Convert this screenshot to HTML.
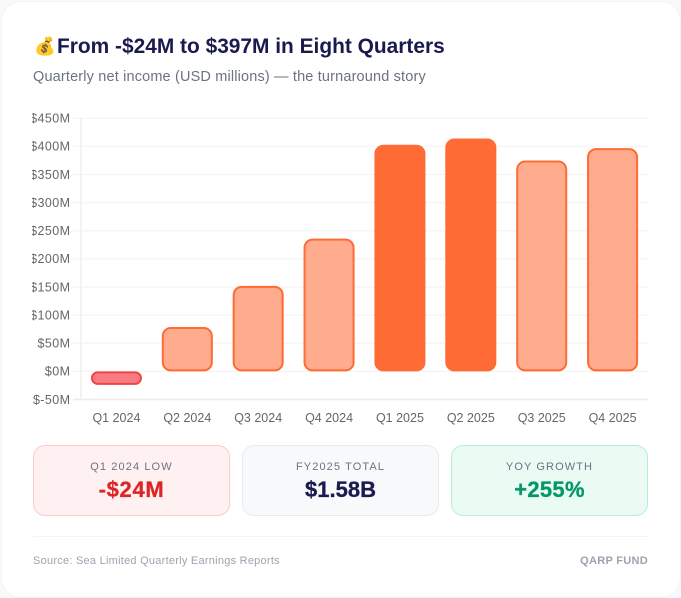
<!DOCTYPE html>
<html lang="en">
<head>
<meta charset="utf-8">
<title>From -$24M to $397M in Eight Quarters</title>
<style>
html,body{margin:0;padding:0;width:681px;height:598px;overflow:hidden;background:#f8f9fb;font-family:"Liberation Sans","Noto Sans CJK SC",sans-serif}
#card{position:absolute;left:1px;top:1px;width:678px;height:595px;background:#fff;border:1px solid #f3f4f6;border-radius:20px}
.abs{position:absolute;white-space:nowrap}
#title-icon{left:34px;top:34px;font-size:17.5px;line-height:24px}
#title{left:57px;top:34px;font-size:20.9px;line-height:26px;font-weight:700;color:#1a1a4e}
#subtitle{left:33px;top:68px;font-size:14.5px;line-height:18px;color:#6b7280;letter-spacing:.16px}
#chart{position:absolute;left:32px;top:105px}
.stat{position:absolute;top:445px;height:69px;border-radius:12px;border:1px solid;text-align:center}
.stat-label{position:absolute;left:0;right:0;top:14px;font-size:11px;line-height:14px;letter-spacing:1.1px;color:#6b7280}
.stat-value{position:absolute;left:0;right:0;top:30px;font-size:22px;line-height:28px;font-weight:700;-webkit-text-stroke:.3px currentColor}
#divider{position:absolute;left:33px;top:536px;width:615px;height:1px;background:#f3f4f6}
#source{left:33px;top:554px;font-size:11px;line-height:14px;color:#9ca3af;letter-spacing:.25px}
#brand{right:33px;top:554px;font-size:11px;line-height:14px;font-weight:700;color:#9ca3af;letter-spacing:.3px}
</style>
</head>
<body>
<div id="card"></div>
<div id="title-icon" class="abs">💰</div>
<div id="title" class="abs">From -$24M to $397M in Eight Quarters</div>
<div id="subtitle" class="abs">Quarterly net income (USD millions) — the turnaround story</div>
<svg id="chart" width="616" height="325" viewBox="0 0 616 325"></svg>

<div class="stat" style="left:33px;width:195px;background:#fff1f1;border-color:#fecaca">
  <div class="stat-label">Q1 2024 LOW</div>
  <div class="stat-value" style="color:#dc2626;letter-spacing:.7px">-$24M</div>
</div>
<div class="stat" style="left:242px;width:195px;background:#f8f9fb;border-color:#e9eaee">
  <div class="stat-label">FY2025 TOTAL</div>
  <div class="stat-value" style="color:#1a1a4e">$1.58B</div>
</div>
<div class="stat" style="left:451px;width:195px;background:#e9fbf3;border-color:#b5f0d3">
  <div class="stat-label">YOY GROWTH</div>
  <div class="stat-value" style="color:#059669;letter-spacing:.3px">+255%</div>
</div>

<div id="divider"></div>
<div id="source" class="abs">Source: Sea Limited Quarterly Earnings Reports</div>
<div id="brand" class="abs">QARP FUND</div>

<script>
const categories = ["Q1 2024","Q2 2024","Q3 2024","Q4 2024","Q1 2025","Q2 2025","Q3 2025","Q4 2025"];
const netIncome = [-24, 79, 152, 236, 403, 414, 375, 397];
const emphasis = [false, false, false, false, true, true, false, false];
const yTicks = [450, 400, 350, 300, 250, 200, 150, 100, 50, 0, -50];

const NS = "http://www.w3.org/2000/svg";
const svg = document.getElementById("chart");
const plotLeft = 49, plotRight = 616, plotTop = 13.3, plotBottom = 294.5;
const yMin = -50, yMax = 450;
const y = v => plotBottom - (v - yMin) / (yMax - yMin) * (plotBottom - plotTop);
const band = (plotRight - plotLeft) / categories.length;
const x = i => plotLeft + band * (i + 0.5);
const barWidth = band * 0.72;

function make(tag, attrs) {
  const el = document.createElementNS(NS, tag);
  for (const k in attrs) el.setAttribute(k, attrs[k]);
  return el;
}

yTicks.forEach(t => {
  const last = t === yMin;
  const line = make("line", {x1: plotLeft - 8, x2: plotRight, y1: y(t), y2: y(t), stroke: last ? "#ececee" : "#f3f4f6", "stroke-width": last ? 1.6 : 1.2});
  
  
  svg.appendChild(line);
  const label = make("text", {x: plotLeft - 10.6, y: y(t) + 4.3, "text-anchor": "end", "font-size": 12.5, fill: "#666", "letter-spacing": ".4"});
  label.textContent = "$" + t + "M";
  
  
  svg.appendChild(label);
});

const axis = make("line", {x1: plotLeft, x2: plotLeft, y1: plotTop, y2: plotBottom, stroke: "#f0f0f2", "stroke-width": 1.6});


svg.appendChild(axis);

function barPath(x0, x1, yTop, yBot, r) {
  r = Math.min(r, (yBot - yTop) / 2, (x1 - x0) / 2);
  const arc = (ex, ey) => "A" + r + " " + r + " 0 0 1 " + ex + " " + ey;
  return "M" + (x0 + r) + " " + yTop + "H" + (x1 - r) + arc(x1, yTop + r) +
    "V" + (yBot - r) + arc(x1 - r, yBot) +
    "H" + (x0 + r) + arc(x0, yBot - r) +
    "V" + (yTop + r) + arc(x0 + r, yTop) + "Z";
}

netIncome.forEach((v, i) => {
  const neg = v < 0;
  const strong = emphasis[i];
  const top = y(Math.max(v, 0));
  const bot = y(Math.min(v, 0));
  const inset = 1;
  const bar = make("path", {
    d: barPath(x(i) - barWidth / 2 + inset, x(i) + barWidth / 2 - inset, top + inset, bot - inset, 8),
    fill: neg ? "#f87b82" : (strong ? "#ff6b35" : "#ffab8d"),
    stroke: neg ? "#ef4444" : "#ff6b35",
    "stroke-width": 2
  });
  
  
  svg.appendChild(bar);

  const label = make("text", {x: x(i), y: 317, "text-anchor": "middle", "font-size": 12.5, fill: "#666"});
  label.textContent = categories[i];
  
  
  svg.appendChild(label);
});
</script>
</body>
</html>
